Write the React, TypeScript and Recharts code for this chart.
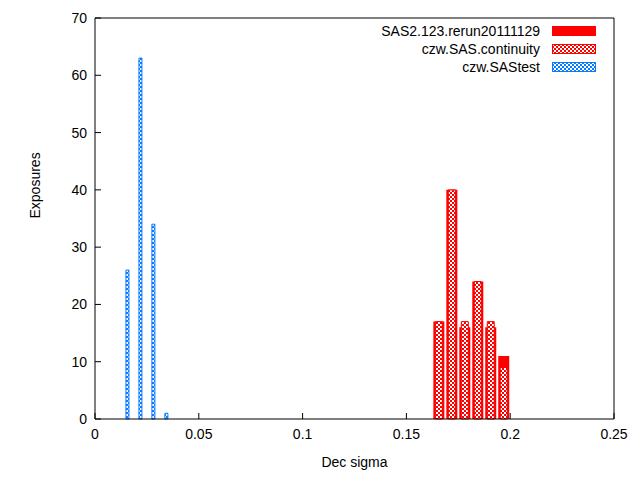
import { ComposedChart, Bar, XAxis, YAxis } from 'recharts'

const decSigma = [0.015625, 0.021875, 0.028125, 0.034375, 0.165625, 0.171875, 0.178125, 0.184375, 0.190625, 0.196875]
const rerun = [null, null, null, null, 17, 40, 16, 24, 16, 11]
const continuity = [null, null, null, null, 17, 40, 17, 24, 17, 9]
const saTest = [26, 63, 34, 1, null, null, null, null, null, null]
const xTicks = [0, 0.05, 0.1, 0.15, 0.2, 0.25]
const yTicks = [0, 10, 20, 30, 40, 50, 60, 70]

const data = decSigma.map((x, i) => ({ x, rerun: rerun[i], continuity: continuity[i], saTest: saTest[i] }))

const series = [
  { name: 'SAS2.123.rerun20111129', fill: '#ff0000', stroke: '#ff0000' },
  { name: 'czw.SAS.continuity', fill: 'url(#chkRed)', stroke: '#ff0000' },
  { name: 'czw.SAStest', fill: 'url(#chkBlue)', stroke: '#0a7bff' },
]

const font = 'Liberation Sans, Arial, sans-serif'

function Key() {
  return (
    <div style={{ position: 'absolute', top: 22, right: 44, fontFamily: font, fontSize: 14, zIndex: 2 }}>
      {series.map(s => (
        <div key={s.name} style={{ display: 'flex', alignItems: 'center', justifyContent: 'flex-end', height: 18 }}>
          <span style={{ marginRight: 12 }}>{s.name}</span>
          <svg width={44} height={10}>
            <rect x={0.5} y={0.5} width={43} height={9} fill={s.fill} stroke={s.stroke} />
          </svg>
        </div>
      ))}
    </div>
  )
}

const axisProps = { type: 'number' as const, dataKey: 'x', domain: [0, 0.25], hide: true }

export default function App() {
  return (
    <div style={{ margin: -8, width: 640, height: 480, background: '#fff', position: 'relative', overflow: 'hidden' }}>
      <svg width={0} height={0} style={{ position: 'absolute' }}>
        <defs>
          <pattern id="chkRed" width={4} height={4} patternUnits="userSpaceOnUse">
            <rect width={4} height={4} fill="#ff0000" />
            <rect width={2} height={2} fill="#fff" />
            <rect x={2} y={2} width={2} height={2} fill="#fff" />
          </pattern>
          <pattern id="chkBlue" width={4} height={4} patternUnits="userSpaceOnUse">
            <rect width={4} height={4} fill="#0a7bff" />
            <rect width={2} height={2} fill="#fff" />
            <rect x={2} y={2} width={2} height={2} fill="#fff" />
          </pattern>
        </defs>
      </svg>
      <Key />
      <ComposedChart width={640} height={480} data={data} margin={{ top: 17, right: 25, bottom: 11, left: 45 }}>
        <XAxis xAxisId="a" type="number" dataKey="x" domain={[0, 0.25]} ticks={xTicks} tickSize={-6} tickMargin={16}
          stroke="#000" tick={{ fill: '#000', fontSize: 14, fontFamily: font }} height={50}
          label={{ value: 'Dec sigma', position: 'insideBottom', offset: 2, fill: '#000', fontSize: 14, fontFamily: font }} />
        <XAxis xAxisId="top" orientation="top" type="number" dataKey="x" domain={[0, 0.25]} ticks={xTicks} tickSize={-6}
          stroke="#000" tick={false} height={1} />
        <XAxis xAxisId="b" {...axisProps} />
        <XAxis xAxisId="c" {...axisProps} />
        <YAxis yAxisId="l" domain={[0, 70]} ticks={yTicks} tickSize={-6} tickMargin={14} width={50}
          stroke="#000" tick={{ fill: '#000', fontSize: 14, fontFamily: font }}
          label={{ value: 'Exposures', angle: -90, position: 'insideLeft', offset: -10, fill: '#000', fontSize: 14, fontFamily: font }} />
        <YAxis yAxisId="r" orientation="right" domain={[0, 70]} ticks={yTicks} tickSize={-6} tick={false} width={1} stroke="#000" />
        <Bar xAxisId="a" yAxisId="l" dataKey="rerun" name={series[0].name} fill="#ff0000" barSize={11} isAnimationActive={false} />
        <Bar xAxisId="b" yAxisId="l" dataKey="continuity" name={series[1].name} fill="url(#chkRed)" stroke="#ff0000" barSize={7} isAnimationActive={false} />
        <Bar xAxisId="c" yAxisId="l" dataKey="saTest" name={series[2].name} fill="url(#chkBlue)" stroke="#0a7bff" barSize={3} isAnimationActive={false} />
      </ComposedChart>
    </div>
  )
}
